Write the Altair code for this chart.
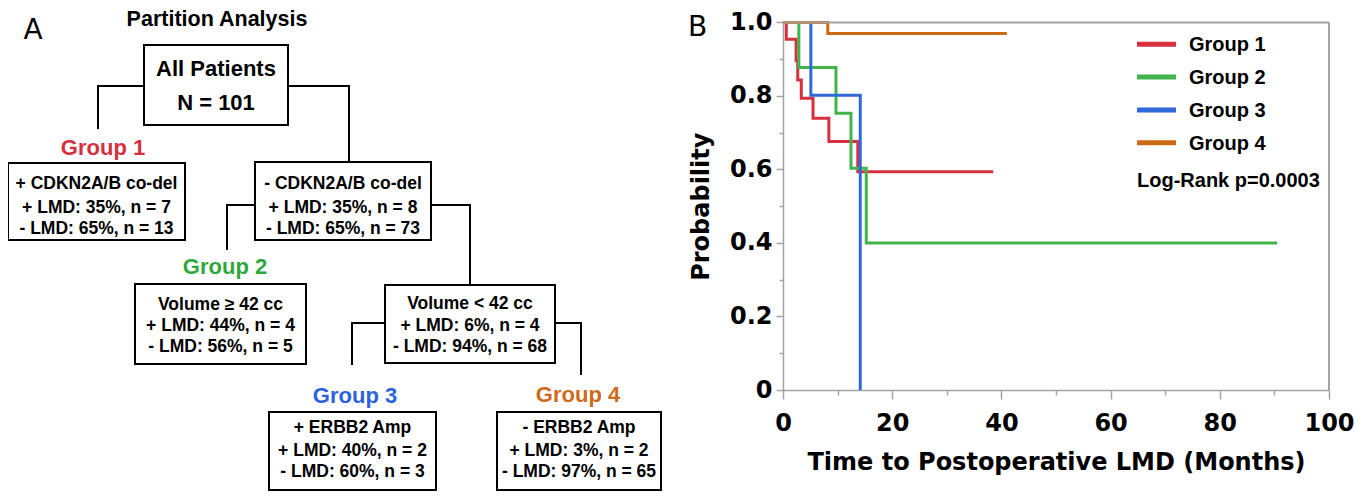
import altair as alt
import pandas as pd

# ---------------- Panel B data: Kaplan-Meier step points ----------------
groups = ["Group 1", "Group 2", "Group 3", "Group 4"]
group_colors = ["#d6303f", "#41b54c", "#2f69d8", "#cc6915"]
g1_months = [0, 0.6, 2.4, 2.7, 3.35, 5.5, 8.4, 13.7, 38.5]
g1_prob = [1.0, 0.954, 0.896, 0.843, 0.794, 0.739, 0.676, 0.594, 0.594]
g2_months = [0, 2.9, 9.7, 12.45, 15.25, 90.5]
g2_prob = [1.0, 0.877, 0.753, 0.603, 0.40, 0.40]
g3_months = [0, 5.1, 14.15]
g3_prob = [1.0, 0.802, 0.0]
g4_months = [0, 8.2, 41.0]
g4_prob = [1.0, 0.97, 0.97]
x_ticks = [0, 20, 40, 60, 80, 100]
x_minor = [10, 30, 50, 70, 90]
y_ticks = [0, 0.2, 0.4, 0.6, 0.8, 1.0]
y_minor = [0.1, 0.3, 0.5, 0.7, 0.9]
x_title = "Time to Postoperative LMD (Months)"
y_title = "Probability"
logrank_text = "Log-Rank p=0.0003"

# ---------------- Panel A data: partition tree ----------------
tree_title = "Partition Analysis"
total_n = 101
conditions = ["+ CDKN2A/B co-del", "- CDKN2A/B co-del", "Volume \u2265 42 cc",
              "Volume < 42 cc", "+ ERBB2 Amp", "- ERBB2 Amp"]
lmd_pos_pct = [35, 35, 44, 6, 40, 3]
lmd_pos_n = [7, 8, 4, 4, 2, 2]
lmd_neg_pct = [65, 65, 56, 94, 60, 97]
lmd_neg_n = [13, 73, 5, 68, 3, 65]
node_group = [1, 0, 2, 0, 3, 4]   # 0 = internal split node

# ---------------- diagram layout (figure pixel units) ----------------
root_box = (144, 288, 45, 125)
root_lines = (76, 110)
box_left = [8, 255, 135, 385, 269, 497]
box_right = [185, 431, 306, 555, 436, 661]
box_top = [163, 162, 284, 285, 412, 412]
box_bottom = [240, 240, 364, 363, 490, 490]
line_base = [[189, 213, 234], [189, 213, 234], [310, 331, 352],
             [309, 331, 352], [433, 456, 477], [433, 456, 477]]
group_label_xy = {1: (103, 155), 2: (225, 274), 3: (355, 403), 4: (578, 402)}
connectors = [
    [(144, 86), (98, 86), (98, 129)],
    [(288, 86), (349, 86), (349, 162)],
    [(255, 205), (227, 205), (227, 250)],
    [(431, 205), (470, 205), (470, 285)],
    [(385, 323), (352, 323), (352, 365)],
    [(555, 323), (581, 323), (581, 375)],
]

W, H = 1346, 484
AXIS_GRAY = "#a3a3a3"
PX = alt.Scale(domain=[8, 8 + W], range=[0, W], nice=False, zero=False)
PY = alt.Scale(domain=[8, 8 + H], range=[0, H], nice=False, zero=False)
TX = alt.Scale(domain=[0, 100], range=[775, 1321], nice=False, zero=False)
TY = alt.Scale(domain=[0, 1], range=[382, 14.4], nice=False, zero=False)

# ---- tree tables ----
conn_rows = []
for i, pts in enumerate(connectors):
    for k, (px, py) in enumerate(pts):
        conn_rows.append({"id": i, "k": k, "x": px, "y": py})
conn_df = pd.DataFrame(conn_rows)

rect_df = pd.DataFrame({
    "x": [root_box[0]] + box_left,
    "x2": [root_box[1]] + box_right,
    "y": [root_box[2]] + box_top,
    "y2": [root_box[3]] + box_bottom,
})

gcol = {1: group_colors[0], 2: "#2ea83b", 3: "#2a62e0", 4: "#d06a1a"}
txt_rows = [
    {"x": 217, "y": 26, "text": tree_title, "size": 21.5, "color": "black"},
    {"x": (root_box[0] + root_box[1]) / 2, "y": root_lines[0], "text": "All Patients", "size": 22, "color": "black"},
    {"x": (root_box[0] + root_box[1]) / 2, "y": root_lines[1], "text": f"N = {total_n}", "size": 22, "color": "black"},
]
for i in range(len(conditions)):
    cx = (box_left[i] + box_right[i]) / 2
    lines = [conditions[i],
             f"+ LMD: {lmd_pos_pct[i]}%, n = {lmd_pos_n[i]}",
             f"- LMD: {lmd_neg_pct[i]}%, n = {lmd_neg_n[i]}"]
    for ln, by in zip(lines, line_base[i]):
        txt_rows.append({"x": cx, "y": by, "text": ln, "size": 17.5, "color": "black"})
    g = node_group[i]
    if g:
        gx, gy = group_label_xy[g]
        txt_rows.append({"x": gx, "y": gy, "text": f"Group {g}", "size": 22, "color": gcol[g]})
txt_df = pd.DataFrame(txt_rows)

panel_df = pd.DataFrame({"x": [33, 697.5], "y": [39, 36], "text": ["A", "B"]})

connector_layer = alt.Chart(conn_df).mark_line(color="black", strokeWidth=2).encode(
    x=alt.X("x:Q", scale=PX, axis=None),
    y=alt.Y("y:Q", scale=PY, axis=None),
    detail="id:N",
    order="k:Q",
)
box_layer = alt.Chart(rect_df).mark_rect(fill="white", stroke="black", strokeWidth=2).encode(
    x=alt.X("x:Q", scale=PX, axis=None), x2="x2:Q",
    y=alt.Y("y:Q", scale=PY, axis=None), y2="y2:Q",
)
text_layer = alt.Chart(txt_df).mark_text(
    font="Liberation Sans", fontWeight="bold", align="center", baseline="alphabetic"
).encode(
    x=alt.X("x:Q", scale=PX, axis=None),
    y=alt.Y("y:Q", scale=PY, axis=None),
    text="text:N",
    size=alt.Size("size:Q", scale=None),
    color=alt.Color("color:N", scale=None),
)
panel_layer = alt.Chart(panel_df).mark_text(
    font="DejaVu Sans", fontWeight="normal", fontSize=28, align="center", baseline="alphabetic", color="black"
).encode(
    x=alt.X("x:Q", scale=PX, axis=None),
    y=alt.Y("y:Q", scale=PY, axis=None),
    text="text:N",
)

# ---- KM tables ----
km_rows = []
for name, ts, ps in zip(groups, [g1_months, g2_months, g3_months, g4_months],
                        [g1_prob, g2_prob, g3_prob, g4_prob]):
    for t, p in zip(ts, ps):
        km_rows.append({"group": name, "t": t, "p": p})
km_df = pd.DataFrame(km_rows)

x_axis = alt.Axis(
    orient="bottom", offset=-(H - 382), values=x_ticks, grid=False,
    domainColor=AXIS_GRAY, domainWidth=1.5, tickColor=AXIS_GRAY, tickWidth=1.5, tickSize=9,
    labelFont="DejaVu Sans", labelFontWeight="bold", labelFontSize=24, labelColor="black",
    labelPadding=12, labelFlush=False,
    title=x_title, titleFont="DejaVu Sans", titleFontWeight="bold", titleFontSize=24,
    titleColor="black", titlePadding=15,
)
y_axis = alt.Axis(
    orient="left", offset=-775, values=y_ticks, grid=False,
    domainColor=AXIS_GRAY, domainWidth=1.5, tickColor=AXIS_GRAY, tickWidth=1.5, tickSize=7,
    labelFont="DejaVu Sans", labelFontWeight="bold", labelFontSize=24, labelColor="black",
    labelPadding=4, labelFlush=False,
    labelExpr="datum.value == 0 ? '0' : format(datum.value, '.1f')",
    title=y_title, titleFont="DejaVu Sans", titleFontWeight="bold", titleFontSize=24,
    titleColor="black", titlePadding=16,
)
x_minor_axis = alt.Axis(
    orient="bottom", offset=-(H - 382), values=x_minor, grid=False, domain=False, labels=False,
    tickColor=AXIS_GRAY, tickWidth=1.5, tickSize=5, title=None,
)
y_minor_axis = alt.Axis(
    orient="left", offset=-775, values=y_minor, grid=False, domain=False, labels=False,
    tickColor=AXIS_GRAY, tickWidth=1.5, tickSize=4, title=None,
)

frame_df = pd.DataFrame({"t": [0, 100], "t2": [100, 100], "p": [1, 0], "p2": [1, 1]})
frame_layer = alt.Chart(frame_df).mark_rule(color=AXIS_GRAY, strokeWidth=2).encode(
    x=alt.X("t:Q", scale=TX, axis=None), x2="t2:Q",
    y=alt.Y("p:Q", scale=TY, axis=None), y2="p2:Q",
)

km_layer = alt.Chart(km_df).mark_line(interpolate="step-after", strokeWidth=3).encode(
    x=alt.X("t:Q", scale=TX, axis=x_axis),
    y=alt.Y("p:Q", scale=TY, axis=y_axis),
    color=alt.Color("group:N", scale=alt.Scale(domain=groups, range=group_colors), legend=None),
)

minor_layer = alt.Chart(pd.DataFrame({"t": [0], "p": [0]})).mark_point(opacity=0).encode(
    x=alt.X("t:Q", scale=TX, axis=x_minor_axis),
    y=alt.Y("p:Q", scale=TY, axis=y_minor_axis),
)

leg_df = pd.DataFrame({"group": groups, "color": group_colors, "row": list(range(len(groups)))})
LEG_Y = alt.Scale(domain=[0, len(groups) - 1], range=[36.3, 134.7], nice=False, zero=False)
swatch_layer = alt.Chart(leg_df).mark_rule(strokeWidth=5).encode(
    x=alt.value(1129), x2=alt.value(1168),
    y=alt.Y("row:Q", scale=LEG_Y, axis=None),
    color=alt.Color("color:N", scale=None),
)
legend_text_layer = alt.Chart(leg_df).mark_text(
    font="Liberation Sans", fontWeight="bold", fontSize=20, align="left", baseline="middle", dy=1, color="black"
).encode(
    x=alt.value(1181),
    y=alt.Y("row:Q", scale=LEG_Y, axis=None),
    text="group:N",
)
logrank_layer = alt.Chart(pd.DataFrame({"text": [logrank_text]})).mark_text(
    font="Liberation Sans", fontWeight="bold", fontSize=20, align="left", baseline="alphabetic", color="black"
).encode(
    x=alt.value(1129), y=alt.value(178.7), text="text:N",
)

chart = alt.layer(
    connector_layer, box_layer, text_layer, panel_layer,
    minor_layer, km_layer, frame_layer, swatch_layer, legend_text_layer, logrank_layer,
).resolve_scale(
    x="independent", y="independent", color="independent"
).properties(
    width=W, height=H, padding=0, autosize=alt.AutoSizeParams(type="none"),
    background="white",
).configure_view(strokeWidth=0)

chart.save("out.html", embed_options={"renderer": "svg", "actions": False})
